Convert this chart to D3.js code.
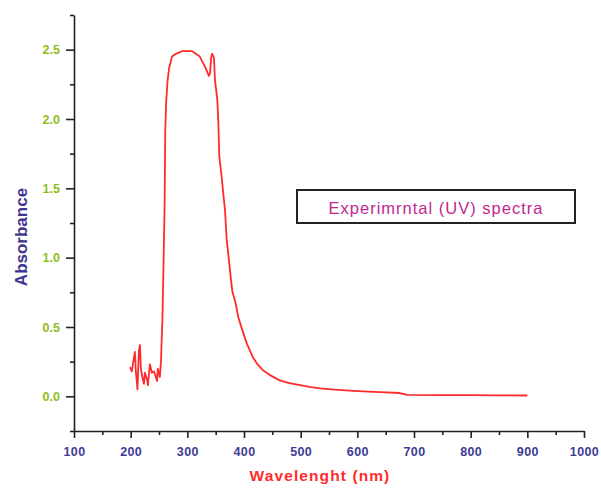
<!DOCTYPE html>
<html>
<head>
<meta charset="utf-8">
<script src="https://d3js.org/d3.v7.min.js"></script>
<style>
  body { margin: 0; background: #fff; }
  text { font-family: "Liberation Sans", Arial, sans-serif; }
</style>
</head>
<body>
<div id="chart"></div>
<script>
// UV absorbance spectrum
var wavelength = [199, 202, 205, 207.5, 209, 212, 214.5, 216.5, 218, 221, 223.5, 225, 229, 230.5, 232, 234,
  237.5, 241, 244.5, 246.5, 248, 251.5, 253.5, 255, 256, 258, 260, 261, 262.5, 265, 268, 273, 280, 286,
  291, 300, 308, 315, 322, 327, 331, 335, 338, 340, 342, 343.5, 345, 347, 348.8, 352.9, 354.6, 356.4,
  360.6, 363.5, 366.5, 369.5, 373.5, 376.5, 379.3, 385.3, 390, 396, 405, 416, 424, 433, 445, 463, 480,
  499, 515, 534, 560, 600, 640, 675, 688, 750, 800, 850, 900];
var absorbance = [0.21, 0.18, 0.26, 0.32, 0.19, 0.05, 0.33, 0.37, 0.20, 0.13, 0.09, 0.17, 0.12, 0.08, 0.15, 0.23,
  0.17, 0.18, 0.14, 0.11, 0.20, 0.14, 0.25, 0.44, 0.55, 0.95, 1.41, 1.90, 2.11, 2.27, 2.37, 2.45, 2.47, 2.48,
  2.49, 2.49, 2.49, 2.47, 2.45, 2.41, 2.38, 2.34, 2.31, 2.33, 2.44, 2.47, 2.46, 2.44, 2.28, 2.14, 1.99, 1.73,
  1.58, 1.46, 1.34, 1.13, 0.98, 0.86, 0.76, 0.67, 0.57, 0.49, 0.38, 0.28, 0.23, 0.19, 0.155, 0.115, 0.095,
  0.08, 0.068, 0.058, 0.048, 0.038, 0.030, 0.024, 0.010, 0.009, 0.008, 0.007, 0.006];

var xTicks = [100, 200, 300, 400, 500, 600, 700, 800, 900, 1000];
var xMinor = [150, 250, 350, 450, 550, 650, 750, 850, 950];
var yTicks = [0.0, 0.5, 1.0, 1.5, 2.0, 2.5];
var yMinor = [-0.25, 0.25, 0.75, 1.25, 1.75, 2.25, 2.75];
var legendLabel = 'Experimrntal (UV) spectra';

(function(d3) {
  'use strict';

  var width = 601, height = 489;
  var plotLeft = 74, plotRight = 584, plotTop = 15, plotBottom = 431;

  var svg = d3.select('#chart').append('svg')
    .attr('width', width)
    .attr('height', height)
    .style('background', '#fff');

  var x = d3.scaleLinear().domain([100, 1000]).range([plotLeft, plotRight]);
  var y = d3.scaleLinear().domain([-0.25, 2.75]).range([plotBottom, plotTop]);

  // minor ticks first
  svg.append('g')
    .attr('transform', 'translate(0,' + plotBottom + ')')
    .call(d3.axisBottom(x).tickValues(xMinor).tickSize(4).tickFormat(''))
    .call(function(g) { g.select('.domain').remove(); });
  svg.append('g')
    .attr('transform', 'translate(' + plotLeft + ',0)')
    .call(d3.axisLeft(y).tickValues(yMinor).tickSize(4).tickFormat(''))
    .call(function(g) { g.select('.domain').remove(); });

  var xAxis = svg.append('g')
    .attr('transform', 'translate(0,' + plotBottom + ')')
    .call(d3.axisBottom(x).tickValues(xTicks).tickSize(7).tickSizeOuter(0).tickPadding(9)
      .tickFormat(d3.format('d')));
  xAxis.selectAll('text')
    .style('font-size', '12.5px')
    .style('font-weight', 'bold')
    .style('letter-spacing', '0.4px')
    .attr('fill', '#3d3b94');

  var yAxis = svg.append('g')
    .attr('transform', 'translate(' + plotLeft + ',0)')
    .call(d3.axisLeft(y).tickValues(yTicks).tickSize(8).tickSizeOuter(0).tickPadding(6)
      .tickFormat(d3.format('.1f')));
  yAxis.selectAll('text')
    .style('font-size', '12.5px')
    .style('font-weight', 'bold')
    .attr('fill', '#8cc020');

  svg.selectAll('.domain, .tick line').attr('stroke', '#222').attr('stroke-width', 1.6);

  // spectrum
  var line = d3.line()
    .x(function(d, i) { return x(wavelength[i]); })
    .y(function(d) { return y(d); });

  svg.append('path')
    .datum(absorbance)
    .attr('d', line)
    .attr('fill', 'none')
    .attr('stroke', '#ff2a2a')
    .attr('stroke-width', 1.8)
    .attr('stroke-linejoin', 'round');

  // axis titles
  svg.append('text')
    .attr('x', 320)
    .attr('y', 481)
    .attr('text-anchor', 'middle')
    .style('font-size', '15.5px')
    .style('font-weight', 'bold')
    .style('letter-spacing', '1.1px')
    .attr('fill', '#ff2b2b')
    .text('Wavelenght (nm)');

  svg.append('text')
    .attr('transform', 'translate(27,237) rotate(-90)')
    .attr('text-anchor', 'middle')
    .style('font-size', '17px')
    .style('font-weight', 'bold')
    .attr('fill', '#3d3590')
    .text('Absorbance');

  // legend box
  var legend = svg.append('g').attr('class', 'legend');
  legend.append('rect')
    .attr('x', 297)
    .attr('y', 190)
    .attr('width', 278)
    .attr('height', 33)
    .attr('fill', '#fff')
    .attr('stroke', '#222')
    .attr('stroke-width', 2);
  legend.append('text')
    .attr('x', 436)
    .attr('y', 214)
    .attr('text-anchor', 'middle')
    .style('font-size', '16.5px')
    .style('letter-spacing', '1px')
    .attr('fill', '#c0288f')
    .text(legendLabel);
})(window.d3);
</script>
</body>
</html>
